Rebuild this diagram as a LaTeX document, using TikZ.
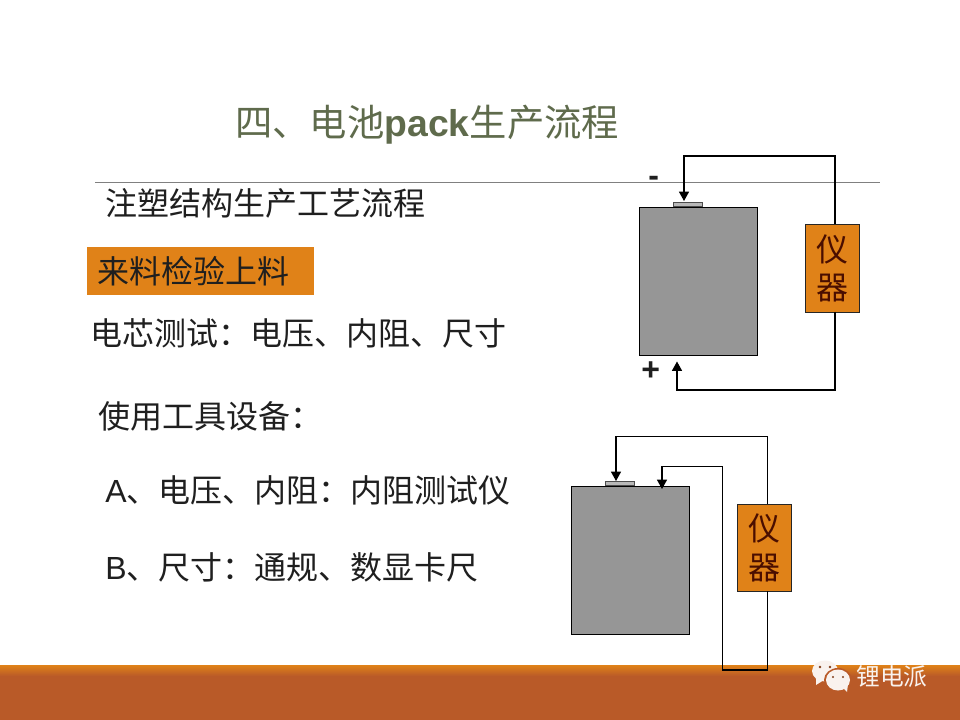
\documentclass[tikz,border=0pt]{standalone}
\usepackage{fontspec}
\setmainfont{Liberation Sans}
\newfontfamily\cjk{Noto Sans CJK SC}
\usetikzlibrary{arrows.meta}
\definecolor{orangefill}{HTML}{E08218}
\definecolor{brownband}{HTML}{B95A28}
\definecolor{titlecol}{HTML}{5F6B4C}
\definecolor{cellgray}{HTML}{969696}
\definecolor{instext}{HTML}{4A0E00}
\colorlet{logowhite}{white!92!brownband}
\tikzset{
  body/.style={anchor=west,inner sep=0pt,font=\fontsize{24pt}{28pt}\selectfont,text=black!88},
  cellbody/.style={draw=black,fill=cellgray,line width=0.75pt,anchor=north west,inner sep=0pt,minimum width=88.5pt,minimum height=111pt},
  terminal/.style={draw=black!70,fill=black!28,line width=0.5pt,anchor=south west,inner sep=0pt,minimum width=21.75pt,minimum height=3pt},
  instrument/.style={draw=black!85,fill=orangefill,line width=0.75pt,anchor=north west,inner sep=0pt,minimum width=40.5pt,minimum height=65.25pt,align=center,text=instext,font=\fontsize{24pt}{29pt}\selectfont\cjk},
  wire/.style={draw=black,line width=0.85pt},
  wirearrow/.style={wire,-{Triangle[length=7pt,width=7.5pt]}}
}
\begin{document}
\begin{tikzpicture}[x=0.75pt,y=-0.75pt]
\useasboundingbox (0,0) rectangle (960,720);
\fill[white] (0,0) rectangle (960,720);
% footer band
\shade[top color=orangefill,bottom color=brownband] (0,665) rectangle (960,676);
\fill[brownband] (0,676) rectangle (960,720);
% rule
\coordinate (ruleL) at (95,182.5);
\coordinate (ruleR) at (880,182.5);
\draw[black!50,line width=0.75pt] (ruleL) -- (ruleR);
% texts
\node[anchor=west,inner sep=0pt,text=titlecol,font=\fontsize{28pt}{32pt}\selectfont\bfseries] (title) at (235,125) {{\cjk\mdseries 四、电池}pack{\cjk\mdseries 生产流程}};
\node[body] (sub) at (105,203) {\cjk 注塑结构生产工艺流程};
\node[anchor=north west,fill=orangefill,inner sep=0pt,minimum width=170.25pt,minimum height=36pt] (tag) at (87,247) {};
\node[body] (tagtext) at (97,271) {\cjk 来料检验上料};
\node[body] (l1) at (90,333) {\cjk 电芯测试：电压、内阻、尺寸};
\node[body] (l2) at (98,416) {\cjk 使用工具设备：};
\node[body] (l3) at (105,490) {A{\cjk 、电压、内阻：内阻测试仪}};
\node[body] (l4) at (105,567) {B{\cjk 、尺寸：通规、数显卡尺}};
\node[body,font=\fontsize{24pt}{28pt}\selectfont\bfseries] (minus) at (648,181) {-};
\node[body,font=\fontsize{24pt}{28pt}\selectfont\bfseries] (plus) at (641,371) {+};
% first circuit
\node[terminal] (t1) at (673,207) {};
\node[cellbody] (c1) at (639,207) {};
\node[instrument] (i1) at (805,224.5) {仪\\器};
\coordinate (p1) at (835,224.5);
\coordinate (p2) at (835,311.5);
\coordinate (a1) at (684,156);
\coordinate (a2) at (684,201);
\coordinate (b1) at (677,390);
\coordinate (b2) at (677,361.5);
\draw[wirearrow] (p1) |- (a1) -- (a2);
\draw[wirearrow] (p2) |- (b1) -- (b2);
% second circuit
\node[terminal] (t2) at (605,486) {};
\node[cellbody] (c2) at (571,486) {};
\node[instrument] (i2) at (737,504) {仪\\器};
\coordinate (q1) at (767.5,504);
\coordinate (q2) at (767.5,591);
\coordinate (d1) at (616,436.5);
\coordinate (d2) at (616,481);
\coordinate (e1) at (722.5,670);
\coordinate (e2) at (722.5,466.5);
\coordinate (e3) at (662,466.5);
\coordinate (e4) at (662,489);
\draw[wirearrow] (q1) |- (d1) -- (d2);
\draw[wirearrow] (q2) |- (e1) -- (e2) -- (e3) -- (e4);
% logo
\fill[logowhite] (825,671) ellipse (13 and 10.5);
\fill[logowhite] (816,678) -- (816,685) -- (824,680) -- cycle;
\fill[brownband] (838,680) ellipse (14 and 12);
\fill[logowhite] (838,680) ellipse (12 and 10.5);
\fill[logowhite] (843,688) -- (848,684) -- (847,692) -- cycle;
\fill[brownband!70!black] (820,667) circle (1.3) (830,667) circle (1.3) (833,677) circle (1.2) (843,677) circle (1.2);
\node[anchor=west,inner sep=0pt,text=logowhite,font=\fontsize{17.8pt}{20pt}\selectfont\cjk] (brand) at (856,677) {锂电派};
\end{tikzpicture}
\end{document}
